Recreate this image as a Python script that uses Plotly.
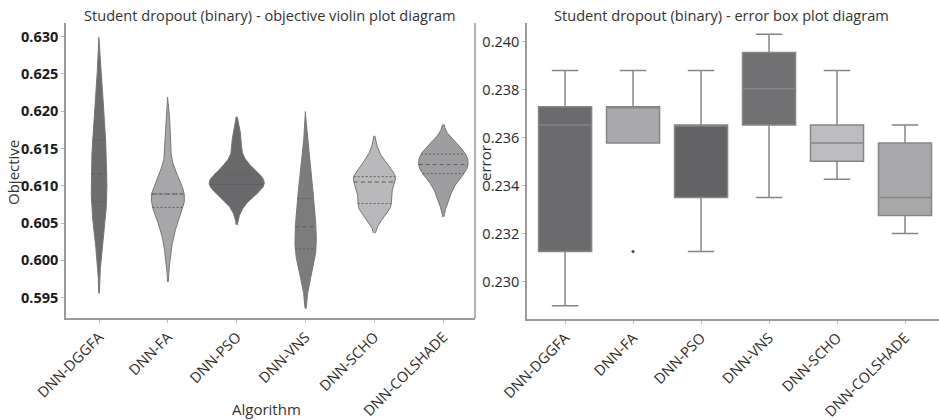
import numpy as np
import plotly.graph_objects as go

# ---- data -------------------------------------------------------------
algorithms = ["DNN-DGGFA", "DNN-FA", "DNN-PSO", "DNN-VNS", "DNN-SCHO", "DNN-COLSHADE"]

# objective values per run (violin panel)
obj_dggfa = [0.6033, 0.6058, 0.6075, 0.6090, 0.6105, 0.6127, 0.6150, 0.6165, 0.6195, 0.6222]
obj_fa = [0.6020, 0.6055, 0.6071, 0.6071, 0.6089, 0.6089, 0.6089, 0.6089, 0.6110, 0.6170]
obj_pso = [0.6077, 0.6095, 0.6102, 0.6102, 0.6102, 0.6102, 0.6110, 0.6118, 0.6130, 0.6163]
obj_vns = [0.5995, 0.6002, 0.6014, 0.6020, 0.6040, 0.6050, 0.6070, 0.6087, 0.6100, 0.6140]
obj_scho = [0.6066, 0.6072, 0.6075, 0.6080, 0.6105, 0.6105, 0.6110, 0.6113, 0.6117, 0.6137]
obj_colshade = [0.6085, 0.6105, 0.6115, 0.6120, 0.6128, 0.6129, 0.6135, 0.6145, 0.6147, 0.6155]
objective_runs = [obj_dggfa, obj_fa, obj_pso, obj_vns, obj_scho, obj_colshade]

# error box statistics (box panel)
err_lower = [0.22899, 0.23578, 0.23125, 0.23351, 0.23427, 0.23200]
err_q1 = [0.23125, 0.23578, 0.23351, 0.23653, 0.23502, 0.23276]
err_median = [0.23653, 0.23729, 0.23653, 0.23804, 0.23578, 0.23351]
err_q3 = [0.23729, 0.23729, 0.23653, 0.23955, 0.23653, 0.23578]
err_upper = [0.23880, 0.23880, 0.23880, 0.24031, 0.23880, 0.23653]
err_outlier_alg = ["DNN-FA"]
err_outlier_val = [0.23125]

violin_colors = ["#6d6d6f", "#a7a7a9", "#69696b", "#7c7c7e", "#b9b9bb", "#9e9ea0"]
box_colors = ["#6b6b6d", "#a9a9ab", "#636365", "#717173", "#bdbdbf", "#a8a8aa"]

FONT = "Open Sans"
LINE_GRAY = "#868686"


def kde(values, grid):
    v = np.asarray(values, float)
    bw = v.std(ddof=1) * len(v) ** (-1 / 5)
    z = (grid[:, None] - v[None, :]) / bw
    dens = np.exp(-0.5 * z ** 2).sum(axis=1) / (len(v) * bw * np.sqrt(2 * np.pi))
    return dens, bw


fig = go.Figure()

# ---- violins (left) ----------------------------------------------------
profiles = []
for runs in objective_runs:
    v = np.asarray(runs, float)
    bw = v.std(ddof=1) * len(v) ** (-1 / 5)
    grid = np.linspace(v.min() - 2 * bw, v.max() + 2 * bw, 300)
    dens, _ = kde(v, grid)
    profiles.append((grid, dens))
peak = max(d.max() for _, d in profiles)
half_width = 0.4

for i, (runs, (grid, dens)) in enumerate(zip(objective_runs, profiles)):
    w = dens / peak * half_width
    xs = np.concatenate([i + w, (i - w)[::-1]])
    ys = np.concatenate([grid, grid[::-1]])
    fig.add_trace(go.Scatter(
        x=xs, y=ys, fill="toself", fillcolor=violin_colors[i], mode="lines",
        line=dict(color="#767676", width=1), xaxis="x", yaxis="y",
        showlegend=False, hoverinfo="skip"))
    q1, med, q3 = np.percentile(runs, [25, 50, 75])
    for q, dash in ((q1, "2px,2px"), (med, "4px,3px"), (q3, "2px,2px")):
        wq = np.interp(q, grid, dens) / peak * half_width
        fig.add_trace(go.Scatter(
            x=[i - wq, i + wq], y=[q, q], mode="lines",
            line=dict(color="#5e5e5e", width=1, dash=dash),
            xaxis="x", yaxis="y", showlegend=False, hoverinfo="skip"))

# ---- boxes (right) -----------------------------------------------------
for i, alg in enumerate(algorithms):
    fig.add_trace(go.Box(
        x=[alg], q1=[err_q1[i]], median=[err_median[i]], q3=[err_q3[i]],
        lowerfence=[err_lower[i]], upperfence=[err_upper[i]],
        fillcolor=box_colors[i], line=dict(color=LINE_GRAY, width=1.5),
        width=0.78, whiskerwidth=0.5, xaxis="x2", yaxis="y2",
        showlegend=False, boxpoints=False))
fig.add_trace(go.Scatter(
    x=err_outlier_alg, y=err_outlier_val, mode="markers",
    marker=dict(color="#4a4a4a", size=3, symbol="diamond"),
    xaxis="x2", yaxis="y2", showlegend=False))

axis_common = dict(showline=True, linecolor="#9a9a9a", linewidth=1.5, showgrid=False,
                   zeroline=False, ticks="outside", ticklen=3, tickcolor="#bbbbbb",
                   mirror=False, automargin=False)


def label(text, x, y, size=14, angle=0):
    return dict(text=text, x=x / 939, y=(420 - y) / 420, xref="paper", yref="paper",
                xanchor="center", yanchor="middle", showarrow=False, textangle=angle,
                font=dict(size=size))


fig.update_layout(
    width=939, height=420, margin=dict(l=0, r=0, t=0, b=0),
    paper_bgcolor="white", plot_bgcolor="white",
    font=dict(family=FONT, color="#333333", size=14),
    xaxis=dict(domain=[66 / 939, 475 / 939], range=[-0.48, 5.46], anchor="y",
               tickmode="array", tickvals=list(range(len(algorithms))), ticktext=algorithms,
               tickangle=-45, tickfont=dict(size=14.5, color="#2a2a2a"), **axis_common),
    yaxis=dict(domain=[101.7 / 420, 397 / 420], range=[0.59223, 0.63183], anchor="x",
               tickvals=[0.595, 0.600, 0.605, 0.610, 0.615, 0.620, 0.625, 0.630],
               tickformat=".3f", tickfont=dict(size=14.5, color="#1a1a1a", weight="bold"),
               **axis_common),
    xaxis2=dict(domain=[527 / 939, 1.0], range=[-0.56, 5.5], anchor="y2",
                type="category", categoryorder="array", categoryarray=algorithms,
                tickangle=-45, tickfont=dict(size=14.5, color="#2a2a2a"), **axis_common),
    yaxis2=dict(domain=[101 / 420, 397 / 420], range=[0.22844, 0.24078], anchor="x2",
                tickvals=[0.230, 0.232, 0.234, 0.236, 0.238, 0.240], tickformat=".3f",
                tickfont=dict(size=14.5, color="#2a2a2a"), **axis_common),
    shapes=[dict(type="line", xref="paper", yref="paper", x0=475 / 939, x1=475 / 939,
                 y0=101.7 / 420, y1=397 / 420, line=dict(color="#9a9a9a", width=1.5))],
    annotations=[
        label("Student dropout (binary) - objective violin plot diagram", 270, 15.5, size=14.6),
        label("Student dropout (binary) - error box plot diagram", 721, 15.5, size=14.6),
        label("Objective", 13, 173, size=15, angle=-90),
        label("error", 485, 163, size=15, angle=-90),
        label("Algorithm", 266, 409, size=15),
    ],
)

fig.write_html("out.html")
